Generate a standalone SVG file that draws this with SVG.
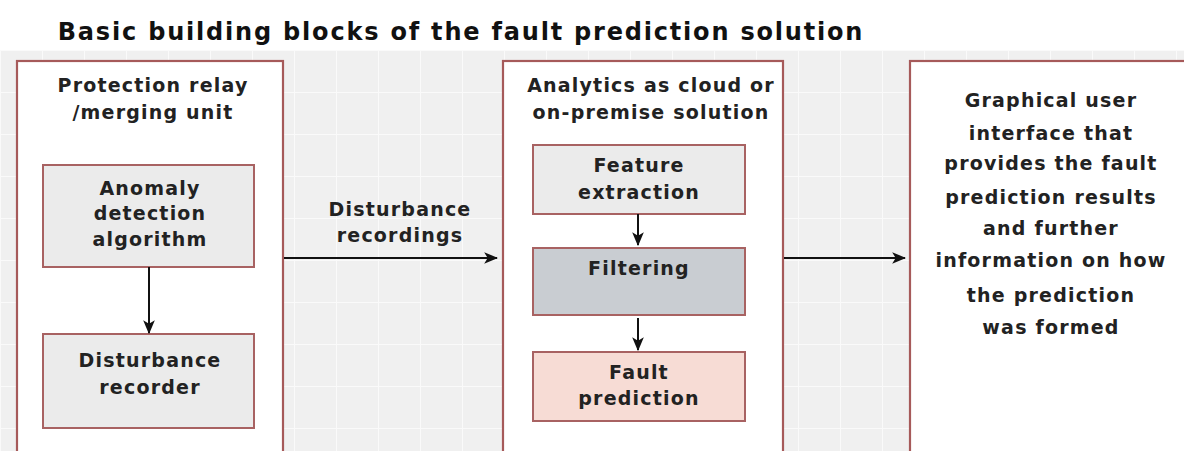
<svg xmlns="http://www.w3.org/2000/svg" width="1184" height="451" viewBox="0 0 1184 451">
<defs>
<pattern id="grid" width="42" height="42" patternUnits="userSpaceOnUse" x="0" y="50">
<rect width="42" height="42" fill="#f0f0f0"/>
<path d="M0 0V42M0 0H42" stroke="#fafafa" stroke-width="2" fill="none"/>
</pattern>
<marker id="ah" viewBox="0 0 12 10" refX="11" refY="5" markerWidth="14" markerHeight="12" markerUnits="userSpaceOnUse" orient="auto">
<path d="M0 0L12 5L0 10L3 5Z" fill="#111"/>
</marker>
</defs>
<style>
.t{font-family:"DejaVu Sans",Verdana,sans-serif;font-weight:bold;fill:#222;text-anchor:middle;font-size:19px;letter-spacing:1.2px}
.outer{fill:#fff;stroke:#a65a5a;stroke-width:2.2}
.inner{stroke:#a86262;stroke-width:2}
.line{stroke:#111;stroke-width:2;fill:none;marker-end:url(#ah)}
</style>
<rect width="1184" height="451" fill="#fff"/>
<rect x="0" y="50" width="1184" height="401" fill="url(#grid)"/>
<text x="461" y="40" class="t" style="font-size:24px;letter-spacing:1.8px;fill:#111">Basic building blocks of the fault prediction solution</text>

<g id="relay">
<rect class="outer" x="17" y="61" width="266" height="400"/>
<text class="t" x="153" y="92">Protection relay</text>
<text class="t" x="153" y="119">/merging unit</text>
</g>
<g id="anomaly">
<rect class="inner" x="43" y="165" width="211" height="102" fill="#ebebeb"/>
<text class="t" x="150" y="195">Anomaly</text>
<text class="t" x="150" y="220">detection</text>
<text class="t" x="150" y="246">algorithm</text>
</g>
<g id="recorder">
<rect class="inner" x="43" y="334" width="211" height="94" fill="#ebebeb"/>
<text class="t" x="150" y="367">Disturbance</text>
<text class="t" x="150" y="394">recorder</text>
</g>
<g id="analytics">
<rect class="outer" x="503" y="61" width="280" height="400"/>
<text class="t" x="651" y="92">Analytics as cloud or</text>
<text class="t" x="651" y="119">on-premise solution</text>
</g>
<g id="feature">
<rect class="inner" x="533" y="145" width="212" height="69" fill="#ebebeb"/>
<text class="t" x="639" y="172">Feature</text>
<text class="t" x="639" y="199">extraction</text>
</g>
<g id="filtering">
<rect class="inner" x="533" y="248" width="212" height="67" fill="#c9cdd2"/>
<text class="t" x="639" y="275">Filtering</text>
</g>
<g id="fault">
<rect class="inner" x="533" y="352" width="212" height="69" fill="#f7dcd5"/>
<text class="t" x="639" y="379">Fault</text>
<text class="t" x="639" y="405">prediction</text>
</g>
<g id="gui">
<rect class="outer" x="910" y="61" width="290" height="400"/>
<text class="t" x="1051" y="107">Graphical user</text>
<text class="t" x="1051" y="140">interface that</text>
<text class="t" x="1051" y="170">provides the fault</text>
<text class="t" x="1051" y="204">prediction results</text>
<text class="t" x="1051" y="235">and further</text>
<text class="t" x="1051" y="267">information on how</text>
<text class="t" x="1051" y="302">the prediction</text>
<text class="t" x="1051" y="334">was formed</text>
</g>
<g id="connectors">
<path class="line" d="M149 267V333"/>
<path class="line" d="M638 214V245"/>
<path class="line" d="M638 318V350"/>
<path class="line" d="M284 258H497"/>
<path class="line" d="M784 258H905"/>
<text class="t" x="400" y="216">Disturbance</text>
<text class="t" x="400" y="242">recordings</text>
</g>
</svg>
